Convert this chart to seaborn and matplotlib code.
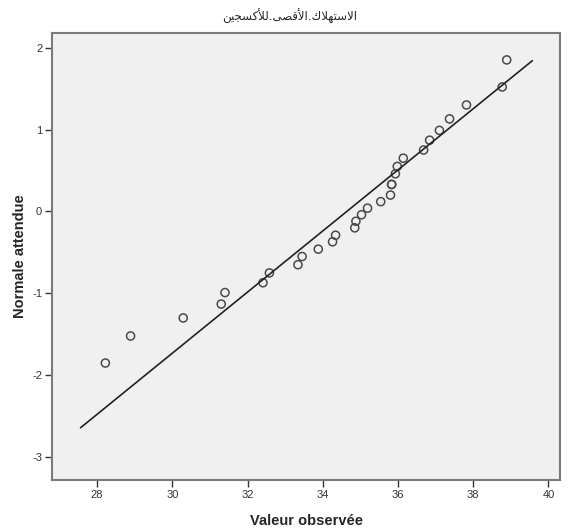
# Q-Q plot (normal) of the observed values

import pandas as pd
import seaborn as sns
import matplotlib.pyplot as plt

observed = [28.22, 28.89, 30.29, 31.30, 31.40, 32.41, 32.58, 33.34, 33.45, 33.88,
            34.26, 34.34, 34.85, 34.88, 35.03, 35.19, 35.54, 35.80, 35.83, 35.83,
            35.93, 35.98, 36.14, 36.68, 36.84, 37.10, 37.37, 37.82, 38.77, 38.89]
expected = [-1.85, -1.52, -1.30, -1.13, -0.99, -0.87, -0.75, -0.65, -0.55, -0.46,
            -0.37, -0.29, -0.20, -0.12, -0.04, 0.04, 0.12, 0.20, 0.33, 0.33,
            0.46, 0.55, 0.65, 0.75, 0.87, 0.99, 1.13, 1.30, 1.52, 1.85]

# reference line ends
line_x = [27.56, 39.57]
line_y = [-2.64, 1.84]

x_ticks = [28, 30, 32, 34, 36, 38, 40]
y_ticks = [-3, -2, -1, 0, 1, 2]

title_text = "الاستهلاك.الأقصى.للأكسجين"
# matplotlib does no arabic shaping -> contextual glyph forms, reversed to visual order
title_shaped = "".join(reversed(
    "\uFE8D\uFEFB\uFEB3\uFE98\uFEEC\uFEFC\uFED9."
    "\uFE8D\uFEF7\uFED7\uFEBC\uFEF0."
    "\uFEDF\uFEF8\uFEDB\uFEB4\uFEA0\uFEF4\uFEE6"))

df = pd.DataFrame({'Valeur': observed, 'Normale': expected})
df_line = pd.DataFrame({'x': line_x, 'y': line_y})

sns.set_style('white')
plt.rcParams['font.family'] = ['Liberation Sans', 'DejaVu Sans']
plt.rcParams['axes.unicode_minus'] = False

fig = plt.figure(figsize=(5.71, 5.30), dpi=100)
ax = fig.add_axes([0.091, 0.094, 0.890, 0.844])
ax.set_facecolor('#f0f0f0')

sns.lineplot(data=df_line, x='x', y='y', ax=ax, color='#222222', linewidth=1.2)
sns.scatterplot(data=df, x='Valeur', y='Normale', ax=ax, marker='o', s=34,
                facecolor='none', edgecolor='#4a4a4a', linewidth=1.1)

ax.set_xlim(26.8, 40.31)
ax.set_ylim(-3.28, 2.18)
ax.set_xticks(x_ticks)
ax.set_yticks(y_ticks)
ax.tick_params(direction='out', length=5, width=1, color='#333333',
               labelsize=8, labelcolor='#333333', pad=2)
ax.tick_params(axis='x', bottom=True)
ax.tick_params(axis='y', left=True)

for s in ax.spines.values():
    s.set_color('#7a7a7a')
    s.set_linewidth(1.5)

ax.set_xlabel('Valeur observée', fontsize=10.5, fontweight='bold')
ax.set_ylabel('Normale attendue', fontsize=10.5, fontweight='bold')
ax.xaxis.set_label_coords(0.5, -0.092)
ax.yaxis.set_label_coords(-0.063, 0.5)
ax.xaxis.label.set_va('center')
ax.yaxis.label.set_va('center')

fig.text(0.508, 0.968, title_shaped, ha='center', va='center', fontsize=8.5,
         family=['DejaVu Sans'])

plt.savefig('out.png', dpi=100)
